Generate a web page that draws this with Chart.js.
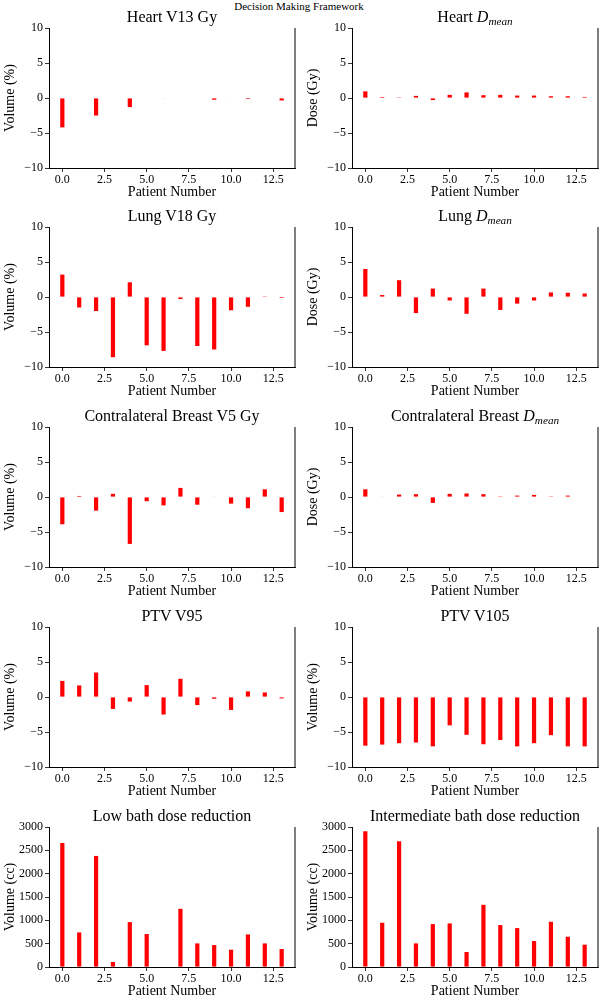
<!DOCTYPE html>
<html>
<head>
<meta charset="utf-8">
<script src="https://cdn.jsdelivr.net/npm/chart.js@4.4.0/dist/chart.umd.min.js"></script>
<style>
  body { margin: 0; background: #fff; font-family: "Liberation Serif", serif; }
  #fig { position: relative; width: 602px; height: 999px; overflow: hidden; }
  #fig canvas { position: absolute; }
  .ptitle { position: absolute; font-size: 16px; color: #000; white-space: nowrap; transform: translate(-50%, -50%); }
  .sub { font-size: 0.7em; position: relative; top: 0.3em; }
  #sup { position: absolute; left: 299px; top: 6px; transform: translate(-50%, -50%); font-size: 11px; white-space: nowrap; }
</style>
</head>
<body>
<div id="fig">
  <div id="sup">Decision Making Framework</div>
</div>
<script>
// patient index along x
const patients = [0, 1, 2, 3, 4, 5, 6, 7, 8, 9, 10, 11, 12, 13];

// values
const heartV13   = [-4.2, 0, -2.5, 0, -1.3, 0, -0.05, 0, 0, -0.25, -0.05, -0.15, 0, -0.35];
const heartDmean = [0.95, 0.15, 0.1, 0.3, -0.3, 0.45, 0.8, 0.4, 0.45, 0.35, 0.35, 0.25, 0.25, 0.15];
const lungV18    = [3.2, -1.5, -2.0, -8.6, 2.1, -6.9, -7.7, -0.3, -7.0, -7.5, -1.9, -1.4, 0.1, -0.15];
const lungDmean  = [4.0, 0.28, 2.4, -2.3, 1.2, -0.5, -2.4, 1.2, -1.85, -0.95, -0.5, 0.65, 0.6, 0.5];
const cbV5       = [-3.9, 0.15, -1.95, 0.45, -6.7, -0.6, -1.2, 1.3, -1.1, 0.05, -0.95, -1.6, 1.1, -2.15];
const cbDmean    = [1.1, 0.05, 0.35, 0.4, -0.85, 0.45, 0.5, 0.4, 0.1, 0.2, 0.3, 0.1, 0.2, 0];
const ptvV95     = [2.3, 1.65, 3.5, -1.7, -0.65, 1.7, -2.5, 2.6, -1.15, -0.25, -1.85, 0.8, 0.65, -0.2];
const ptvV105    = [-6.95, -6.8, -6.6, -6.5, -7.05, -4.05, -5.4, -6.75, -6.15, -7.05, -6.6, -5.45, -7.05, -7.05];
const lowBath    = [2658, 741, 2380, 107, 962, 706, 0, 1247, 506, 470, 371, 698, 506, 385];
const interBath  = [2908, 948, 2694, 506, 919, 934, 321, 1333, 898, 834, 556, 969, 649, 478];

// tick labels
const xTicks    = [0, 2.5, 5, 7.5, 10, 12.5];
const diffTicks = [-10, -5, 0, 5, 10];
const ccTicks   = [0, 500, 1000, 1500, 2000, 2500, 3000];

const plotTops = [28, 227, 427, 627, 827];
const serif = '"Liberation Serif", serif';

const panels = [
  { row: 0, col: 0, title: 'Heart V13 Gy', yLabel: 'Volume (%)', values: heartV13, ticks: diffTicks },
  { row: 0, col: 1, title: 'Heart <i>D</i><span class="sub"><i>mean</i></span>', yLabel: 'Dose (Gy)', values: heartDmean, ticks: diffTicks },
  { row: 1, col: 0, title: 'Lung V18 Gy', yLabel: 'Volume (%)', values: lungV18, ticks: diffTicks },
  { row: 1, col: 1, title: 'Lung <i>D</i><span class="sub"><i>mean</i></span>', yLabel: 'Dose (Gy)', values: lungDmean, ticks: diffTicks },
  { row: 2, col: 0, title: 'Contralateral Breast V5 Gy', yLabel: 'Volume (%)', values: cbV5, ticks: diffTicks },
  { row: 2, col: 1, title: 'Contralateral Breast <i>D</i><span class="sub"><i>mean</i></span>', yLabel: 'Dose (Gy)', values: cbDmean, ticks: diffTicks },
  { row: 3, col: 0, title: 'PTV V95', yLabel: 'Volume (%)', values: ptvV95, ticks: diffTicks },
  { row: 3, col: 1, title: 'PTV V105', yLabel: 'Volume (%)', values: ptvV105, ticks: diffTicks },
  { row: 4, col: 0, title: 'Low bath dose reduction', yLabel: 'Volume (cc)', values: lowBath, ticks: ccTicks },
  { row: 4, col: 1, title: 'Intermediate bath dose reduction', yLabel: 'Volume (cc)', values: interBath, ticks: ccTicks }
];

// matplotlib style right spine
const rightSpine = {
  id: 'rightSpine',
  afterDraw(chart) {
    const { ctx, chartArea: a } = chart;
    ctx.save();
    ctx.strokeStyle = '#555';
    ctx.lineWidth = 1.5;
    ctx.beginPath();
    ctx.moveTo(a.right, a.top);
    ctx.lineTo(a.right, a.bottom);
    ctx.stroke();
    ctx.restore();
  }
};

const fig = document.getElementById('fig');

panels.forEach(p => {
  const left = p.col * 301;
  const top = plotTops[p.row] - 10;
  const yWidth = p.col ? 51 : 49;

  const cv = document.createElement('canvas');
  cv.width = 301;
  cv.height = 185;
  cv.style.left = left + 'px';
  cv.style.top = top + 'px';
  fig.appendChild(cv);

  const t = document.createElement('div');
  t.className = 'ptitle';
  t.innerHTML = p.title;
  t.style.left = (left + yWidth + 123) + 'px';
  t.style.top = (plotTops[p.row] - 11) + 'px';
  fig.appendChild(t);

  new Chart(cv, {
    type: 'bar',
    data: {
      datasets: [{
        data: patients.map((x, i) => ({ x: x, y: p.values[i] })),
        backgroundColor: '#ff0000',
        barPercentage: 0.25,
        categoryPercentage: 1
      }]
    },
    options: {
      responsive: false,
      animation: false,
      layout: { padding: { left: 0, right: p.col ? 4 : 6, top: 10, bottom: 2 } },
      plugins: { legend: { display: false }, tooltip: { enabled: false } },
      scales: {
        x: {
          type: 'linear',
          offset: false,
          min: -0.79,
          max: 13.79,
          afterBuildTicks: ax => { ax.ticks = xTicks.map(v => ({ value: v })); },
          afterFit: ax => { ax.height = 33; },
          ticks: {
            callback: v => v.toFixed(1),
            color: '#000',
            font: { family: serif, size: 12 },
            maxRotation: 0,
            autoSkip: false,
            padding: 1
          },
          grid: { display: true, offset: false, drawOnChartArea: false, tickLength: 4, color: '#000', lineWidth: 0.8 },
          border: { color: '#000', width: 1 },
          title: { display: true, text: 'Patient Number', color: '#000', font: { family: serif, size: 14 }, padding: { top: 0, bottom: 0 } }
        },
        y: {
          min: p.ticks[0],
          max: p.ticks[p.ticks.length - 1],
          afterBuildTicks: ax => { ax.ticks = p.ticks.map(v => ({ value: v })); },
          afterFit: ax => { ax.width = yWidth; },
          ticks: {
            callback: v => v < 0 ? '\u2212' + Math.abs(v) : String(v),
            color: '#000',
            font: { family: serif, size: 12 },
            padding: 2
          },
          grid: { display: true, drawOnChartArea: false, tickLength: 4, color: '#000', lineWidth: 0.8 },
          border: { color: '#000', width: 1 },
          title: { display: true, text: p.yLabel, color: '#000', font: { family: serif, size: 14 }, padding: { top: p.col ? 4 : 2, bottom: 0 } }
        }
      }
    },
    plugins: [rightSpine]
  });
});
</script>
</body>
</html>
